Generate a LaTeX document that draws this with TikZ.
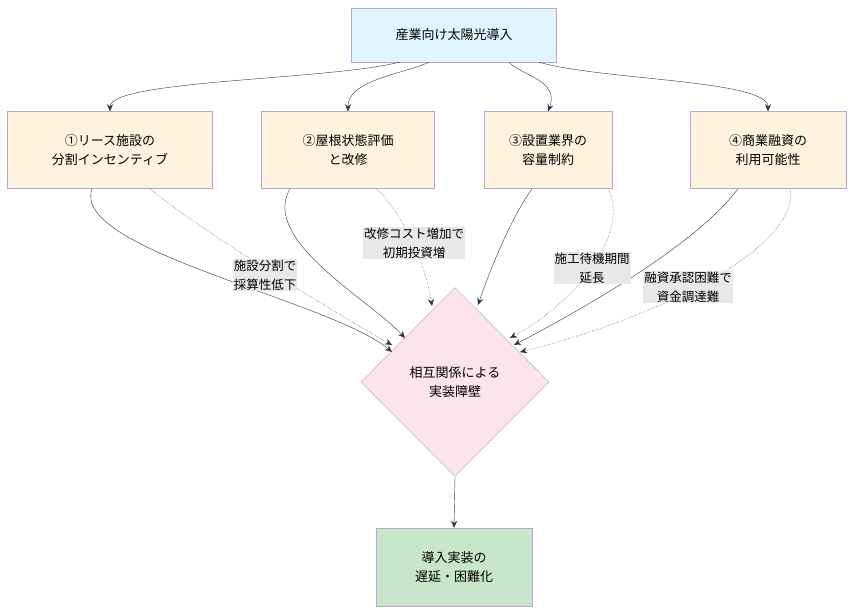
\documentclass[tikz,border=0pt]{standalone}
\usepackage{fontspec}
\setmainfont{Noto Sans CJK JP}
\usetikzlibrary{shapes.geometric,calc,positioning,arrows.meta}
\definecolor{boxline}{HTML}{B9A6D9}
\definecolor{topfill}{HTML}{E1F5FE}
\definecolor{rowfill}{HTML}{FFF3E0}
\definecolor{diafill}{HTML}{FCE4EC}
\definecolor{endfill}{HTML}{C8E6C9}
\definecolor{lblfill}{HTML}{E8E8E8}
\begin{document}
\begin{tikzpicture}[x=1pt, y=-1pt, font=\fontsize{13}{19}\selectfont]
        \tikzstyle{box}=[draw=boxline, align=center, inner sep=0pt]
        \tikzstyle{edge}=[draw=black!80, -{Stealth[length=7pt,width=6pt]}]
        \tikzstyle{note}=[fill=lblfill, align=center, inner sep=1pt, font=\fontsize{12.5}{19}\selectfont]

        \useasboundingbox (0,0) rectangle (854,614);

        % Top box and factor boxes
        \node[box, fill=topfill, minimum width=205pt, minimum height=54pt] (top) at (454,35) {産業向け太陽光導入};
        \node[box, fill=rowfill, minimum width=205pt, minimum height=77pt] (lease) at (110,150) {①リース施設の\\分割インセンティブ};
        \node[box, fill=rowfill, minimum width=173pt, minimum height=77pt] (roof) at (348,150) {②屋根状態評価\\と改修};
        \node[box, fill=rowfill, minimum width=128pt, minimum height=77pt] (install) at (548,150) {③設置業界の\\容量制約};
        \node[box, fill=rowfill, minimum width=156pt, minimum height=77pt] (loan) at (768,150) {④商業融資の\\利用可能性};

        % Barrier and outcome
        \node[box, diamond, fill=diafill, minimum width=188pt, minimum height=189pt] (barrier) at (455,382) {相互関係による\\実装障壁};
        \node[box, fill=endfill, minimum width=156pt, minimum height=78pt] (result) at (454,567) {導入実装の\\遅延・困難化};

        % From top box to factors
        \draw[edge] ($(top.south)+(-55,0)$) .. controls (330,80) and (110,80) .. (lease.north);
        \draw[edge] ($(top.south)+(-25,0)$) .. controls (400,75) and (348,80) .. (roof.north);
        \draw[edge] ($(top.south)+(55,0)$) .. controls (520,75) and (560,80) .. (install.north);
        \draw[edge] ($(top.south)+(85,0)$) .. controls (600,80) and (768,80) .. (loan.north);

        % Solid links to barrier
        \draw[edge] ($(lease.south)+(-18,0)$) .. controls (70,250) and (330,300) .. (392,352);
        \draw[edge] ($(roof.south)+(-58,0)$) .. controls (260,240) and (370,300) .. (405,338);
        \draw[edge] ($(install.south)+(-16,0)$) .. controls (510,220) and (490,270) .. (478,305);
        \draw[edge] ($(loan.south)+(-30,0)$) .. controls (700,240) and (600,300) .. (514,345);

        % Dotted links with labels
        \draw[edge, densely dotted] ($(lease.south)+(40,0)$) .. controls (200,230) and (330,310) .. (392,345);
        \draw[edge, densely dotted] ($(roof.south)+(28,0)$) .. controls (400,210) and (425,260) .. (432,306);
        \draw[edge, densely dotted] ($(install.south)+(60,0)$) .. controls (630,230) and (580,300) .. (510,338);
        \draw[edge, densely dotted] ($(loan.south)+(22,0)$) .. controls (800,250) and (650,320) .. (520,352);

        \node[note] (lbl1) at (265,275) {施設分割で\\採算性低下};
        \node[note] (lbl2) at (414,243) {改修コスト増加で\\初期投資増};
        \node[note] (lbl3) at (592,268) {施工待機期間\\延長};
        \node[note] (lbl4) at (688,287) {融資承認困難で\\資金調達難};

        \draw[edge] (barrier.south) -- (result.north);
\end{tikzpicture}
\end{document}
